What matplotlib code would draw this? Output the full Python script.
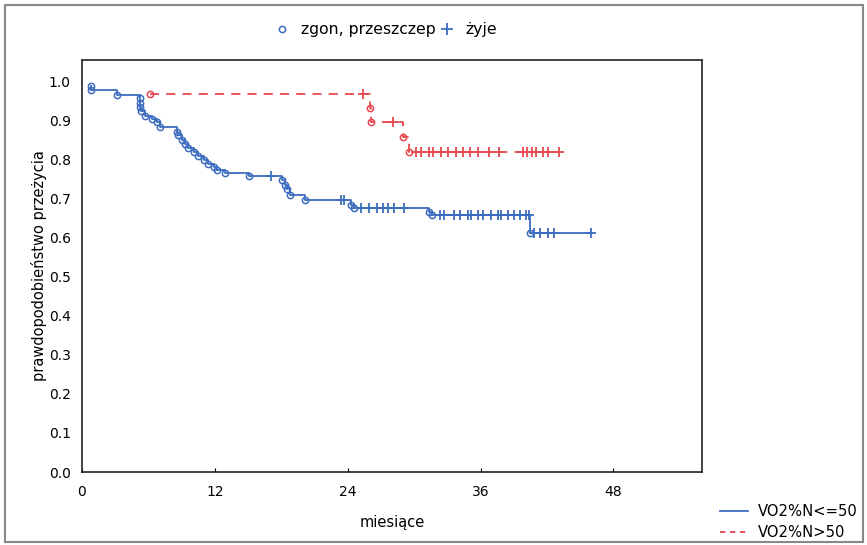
import numpy as np
import matplotlib
matplotlib.use("Agg")
import matplotlib.pyplot as plt
from matplotlib.lines import Line2D
from matplotlib.patches import Rectangle

# blue group: VO2%N<=50 -- event times (months) and survival after each event
blue_event_t = [0.8, 0.8, 3.2, 5.2, 5.2, 5.2, 5.3, 5.7, 6.3, 6.8, 7.0, 8.6, 8.7, 9.0,
                9.3, 9.6, 10.1, 10.5, 11.0, 11.4, 11.9, 12.2, 12.9, 15.1, 18.1, 18.3,
                18.5, 18.8, 20.1, 24.3, 24.6, 31.3, 31.6, 40.5]
blue_event_s = [0.99, 0.98, 0.967, 0.959, 0.946, 0.936, 0.926, 0.913, 0.905, 0.897,
                0.885, 0.872, 0.864, 0.851, 0.841, 0.831, 0.821, 0.810, 0.800, 0.790,
                0.782, 0.774, 0.767, 0.758, 0.749, 0.736, 0.726, 0.710, 0.697, 0.685,
                0.677, 0.667, 0.660, 0.612]
blue_cens_t = [17.1, 23.4, 23.7, 25.2, 25.9, 26.6, 27.2, 27.6, 28.2, 29.1, 32.3, 32.7,
               33.6, 34.1, 34.9, 35.1, 35.8, 36.2, 36.9, 37.6, 37.8, 38.5, 39.0, 39.6,
               40.1, 40.4, 40.8, 41.4, 42.1, 42.6, 46.0]

# red group: VO2%N>50
red_event_t = [6.1, 26.0, 26.1, 29.0, 29.5]
red_event_s = [0.969, 0.933, 0.897, 0.858, 0.820]
red_cens_t = [25.4, 28.1, 30.2, 30.6, 31.3, 31.7, 32.4, 33.1, 33.8, 34.4, 35.0, 35.8,
              36.8, 37.7, 39.8, 40.2, 40.6, 41.0, 41.6, 42.1, 43.1]

labels = ["VO2%N<=50", "VO2%N>50"]
xticks = [0, 12, 24, 36, 48]
yticks = np.round(np.arange(0, 1.01, 0.1), 1)

BLUE = "#3d6dbf"
RED = "#e8474f"


def level_at(ev_t, ev_s, t):
    # survival value of the last event at or before t
    idx = np.searchsorted(ev_t, t, side="right") - 1
    return ev_s[idx]


fig = plt.figure(figsize=(8.67, 5.45), dpi=100)
ax = fig.add_axes([82 / 867, 73 / 545, 620 / 867, 412 / 545])

groups = [
    (blue_event_t, blue_event_s, blue_cens_t, BLUE, "-"),
    (red_event_t, red_event_s, red_cens_t, RED, (0, (5, 4))),
]
for ev_t, ev_s, cens_t, col, ls in groups:
    ev_t = np.array(ev_t)
    ev_s = np.array(ev_s)
    end_t = max(cens_t[-1], ev_t[-1])
    xs = np.append(ev_t, end_t)
    ys = np.append(ev_s, ev_s[-1])
    ax.plot(xs, ys, drawstyle="steps-post", color=col, lw=1.3, ls=ls)
    ax.plot(ev_t, ev_s, "o", ms=4.5, mfc="none", mec=col, mew=1.1)
    cens_s = [level_at(ev_t, ev_s, t) for t in cens_t]
    ax.plot(cens_t, cens_s, "+", ms=7, color=col, mew=1.3)

ax.set_xlim(0, 56)
ax.set_ylim(0, 1.056)
ax.set_xticks(xticks)
ax.set_yticks(yticks)
ax.set_yticklabels([f"{v:.1f}" for v in yticks])
ax.tick_params(axis="x", direction="in", length=3, labelsize=10, pad=9)
ax.tick_params(axis="y", length=0, labelsize=10, pad=8)
for sp in ax.spines.values():
    sp.set_linewidth(1.2)
    sp.set_color("#222222")
ax.set_xlabel("miesiące", fontsize=10.5, labelpad=12)
ax.set_ylabel("prawdopodobieństwo przeżycia", fontsize=10.5, labelpad=1)

# top legend: marker types
top_handles = [
    Line2D([], [], ls="none", marker="o", ms=4.5, mfc="none", mec=BLUE, mew=1.1),
    Line2D([], [], ls="none", marker="+", ms=8, color=BLUE, mew=1.3),
]
fig.legend(top_handles, ["zgon, przeszczep", "żyje"], loc="center",
           bbox_to_anchor=(0.445, 0.945), ncol=2, frameon=False, fontsize=11.3,
           handlelength=1.0, handletextpad=0.7, columnspacing=0.2)

# bottom-right legend: groups
grp_handles = [
    Line2D([], [], color=BLUE, lw=1.3, ls="-"),
    Line2D([], [], color=RED, lw=1.3, ls=(0, (3, 2.5))),
]
fig.legend(grp_handles, labels, loc="lower left", bbox_to_anchor=(0.815, -0.015),
           frameon=False, fontsize=10.6, handlelength=1.9, handletextpad=0.7,
           labelspacing=0.4)

# grey outer frame
fig.patches.append(Rectangle((5 / 867, 3 / 545), 858 / 867, 537 / 545,
                             transform=fig.transFigure, fill=False,
                             edgecolor="#888888", lw=1.5))

fig.savefig("out.png", dpi=100)
